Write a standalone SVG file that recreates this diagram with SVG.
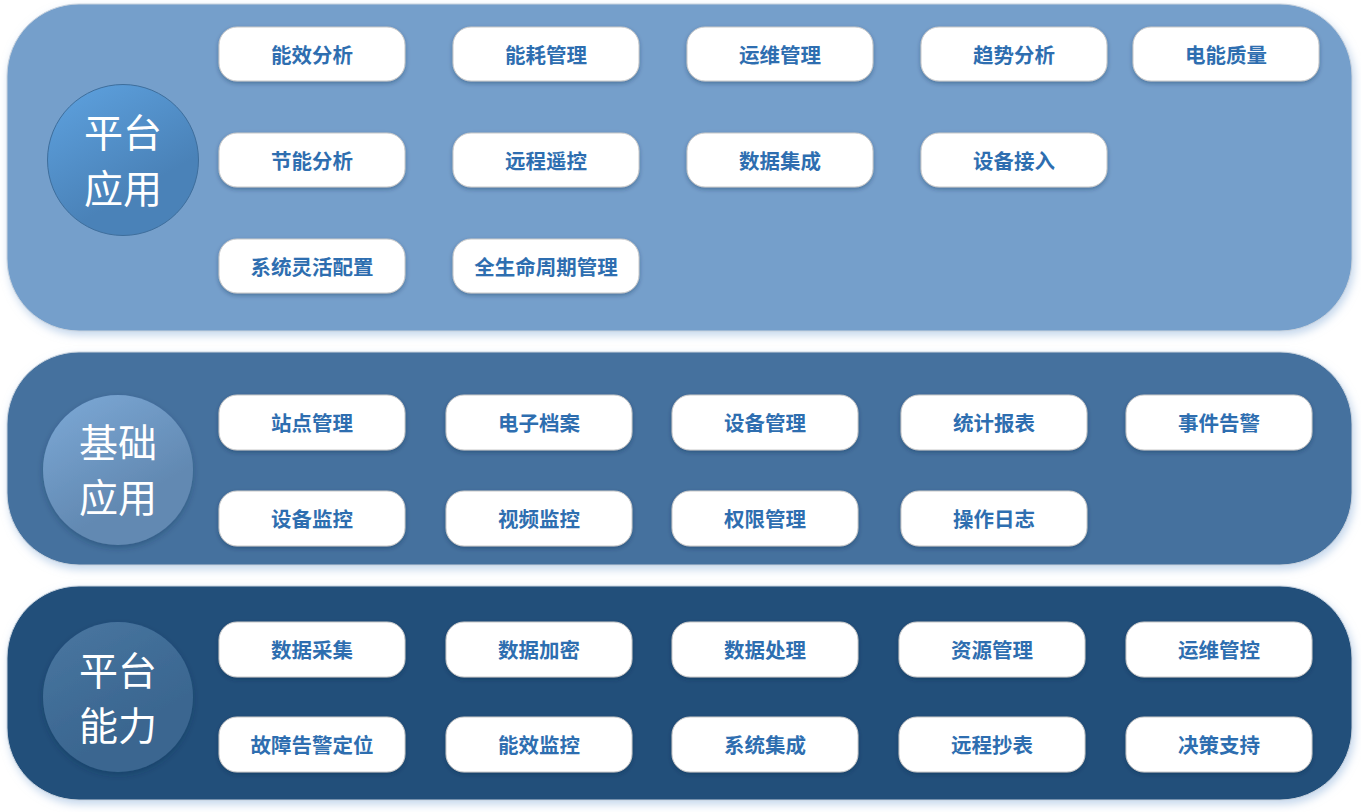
<svg xmlns="http://www.w3.org/2000/svg" width="1361" height="812" viewBox="0 0 1361 812">
<defs>
<filter id="bandShadow" x="-5%" y="-10%" width="110%" height="125%">
<feDropShadow dx="2" dy="4" stdDeviation="4" flood-color="#9fbde0" flood-opacity="0.6"/>
</filter>
<filter id="pillShadow" x="-10%" y="-20%" width="120%" height="150%">
<feDropShadow dx="0" dy="2" stdDeviation="2" flood-color="#0b2a4a" flood-opacity="0.35"/>
</filter>
<filter id="circShadow" x="-20%" y="-20%" width="140%" height="140%">
<feDropShadow dx="0" dy="3" stdDeviation="3" flood-color="#0b2a4a" flood-opacity="0.3"/>
</filter>
<linearGradient id="g1" x1="0.2" y1="0" x2="0.6" y2="0.7">
<stop offset="0" stop-color="#5c9fdc"/>
<stop offset="1" stop-color="#4a82b8"/>
</linearGradient>
<linearGradient id="g2" x1="0.2" y1="0" x2="0.6" y2="0.7">
<stop offset="0" stop-color="#7aa6d3"/>
<stop offset="1" stop-color="#6289b2"/>
</linearGradient>
<linearGradient id="g3" x1="0.2" y1="0" x2="0.6" y2="0.7">
<stop offset="0" stop-color="#48759f"/>
<stop offset="1" stop-color="#3a6690"/>
</linearGradient>
</defs>
<style>
.band{stroke:#c9d3de;stroke-width:1;filter:url(#bandShadow)}
.pill rect{fill:#ffffff;stroke:#c8c8c8;stroke-width:1;filter:url(#pillShadow)}
.pill text{font-family:"Noto Sans CJK SC","Noto Sans",sans-serif;font-weight:bold;font-size:20.5px;fill:#2e6eb0;text-anchor:middle}
.circ text{font-family:"Noto Sans CJK SC","Noto Sans",sans-serif;font-size:39px;fill:#ffffff;text-anchor:middle}
</style>
<rect width="1361" height="812" fill="#ffffff"/>

<g id="band-top"><rect class="band" x="7" y="4" width="1345" height="327" rx="72" fill="#759fcb"/></g>
<g id="band-mid"><rect class="band" x="7" y="352" width="1345" height="213" rx="72" fill="#44719e"/></g>
<g id="band-bot"><rect class="band" x="7" y="586" width="1345" height="214" rx="72" fill="#214f7a"/></g>

<g id="circle-top" class="circ">
<circle cx="123" cy="160" r="75.5" fill="url(#g1)" stroke="#3e6e9c" stroke-width="1"/>
<text x="123" y="147">平台</text>
<text x="123" y="203">应用</text>
</g>
<g id="circle-mid" class="circ">
<circle cx="118" cy="470" r="75" fill="url(#g2)" filter="url(#circShadow)"/>
<text x="118" y="457">基础</text>
<text x="118" y="512">应用</text>
</g>
<g id="circle-bot" class="circ">
<circle cx="118" cy="697" r="75" fill="url(#g3)" filter="url(#circShadow)"/>
<text x="118" y="685">平台</text>
<text x="118" y="740">能力</text>
</g>

<g id="connectors"></g>

<!-- top band pills -->
<g id="n-nxfx" class="pill"><rect x="219" y="27" width="186" height="54" rx="18"/><text x="312" y="62.5">能效分析</text></g>
<g id="n-nhgl" class="pill"><rect x="453" y="27" width="186" height="54" rx="18"/><text x="546" y="62.5">能耗管理</text></g>
<g id="n-ywgl" class="pill"><rect x="687" y="27" width="186" height="54" rx="18"/><text x="780" y="62.5">运维管理</text></g>
<g id="n-qsfx" class="pill"><rect x="921" y="27" width="186" height="54" rx="18"/><text x="1014" y="62.5">趋势分析</text></g>
<g id="n-dnzl" class="pill"><rect x="1133" y="27" width="186" height="54" rx="18"/><text x="1226" y="62.5">电能质量</text></g>
<g id="n-jnfx" class="pill"><rect x="219" y="133" width="186" height="54" rx="18"/><text x="312" y="168.5">节能分析</text></g>
<g id="n-ycyk" class="pill"><rect x="453" y="133" width="186" height="54" rx="18"/><text x="546" y="168.5">远程遥控</text></g>
<g id="n-sjjc" class="pill"><rect x="687" y="133" width="186" height="54" rx="18"/><text x="780" y="168.5">数据集成</text></g>
<g id="n-sbjr" class="pill"><rect x="921" y="133" width="186" height="54" rx="18"/><text x="1014" y="168.5">设备接入</text></g>
<g id="n-xtlhpz" class="pill"><rect x="219" y="239" width="186" height="54" rx="18"/><text x="312" y="274.5">系统灵活配置</text></g>
<g id="n-qsmzqgl" class="pill"><rect x="453" y="239" width="186" height="54" rx="18"/><text x="546" y="274.5">全生命周期管理</text></g>

<!-- middle band pills -->
<g id="n-zdgl" class="pill"><rect x="219" y="395" width="186" height="55" rx="18"/><text x="312" y="430.5">站点管理</text></g>
<g id="n-dzda" class="pill"><rect x="446" y="395" width="186" height="55" rx="18"/><text x="539" y="430.5">电子档案</text></g>
<g id="n-sbgl" class="pill"><rect x="672" y="395" width="186" height="55" rx="18"/><text x="765" y="430.5">设备管理</text></g>
<g id="n-tjbb" class="pill"><rect x="901" y="395" width="186" height="55" rx="18"/><text x="994" y="430.5">统计报表</text></g>
<g id="n-sjgj" class="pill"><rect x="1126" y="395" width="186" height="55" rx="18"/><text x="1219" y="430.5">事件告警</text></g>
<g id="n-sbjk" class="pill"><rect x="219" y="491" width="186" height="55" rx="18"/><text x="312" y="526.5">设备监控</text></g>
<g id="n-spjk" class="pill"><rect x="446" y="491" width="186" height="55" rx="18"/><text x="539" y="526.5">视频监控</text></g>
<g id="n-qxgl" class="pill"><rect x="672" y="491" width="186" height="55" rx="18"/><text x="765" y="526.5">权限管理</text></g>
<g id="n-czrz" class="pill"><rect x="901" y="491" width="186" height="55" rx="18"/><text x="994" y="526.5">操作日志</text></g>

<!-- bottom band pills -->
<g id="n-sjcj" class="pill"><rect x="219" y="622" width="186" height="55" rx="18"/><text x="312" y="657.5">数据采集</text></g>
<g id="n-sjjm" class="pill"><rect x="446" y="622" width="186" height="55" rx="18"/><text x="539" y="657.5">数据加密</text></g>
<g id="n-sjcl" class="pill"><rect x="672" y="622" width="186" height="55" rx="18"/><text x="765" y="657.5">数据处理</text></g>
<g id="n-zygl" class="pill"><rect x="899" y="622" width="186" height="55" rx="18"/><text x="992" y="657.5">资源管理</text></g>
<g id="n-ywgk" class="pill"><rect x="1126" y="622" width="186" height="55" rx="18"/><text x="1219" y="657.5">运维管控</text></g>
<g id="n-gzgjdw" class="pill"><rect x="219" y="717" width="186" height="55" rx="18"/><text x="312" y="752.5">故障告警定位</text></g>
<g id="n-nxjk" class="pill"><rect x="446" y="717" width="186" height="55" rx="18"/><text x="539" y="752.5">能效监控</text></g>
<g id="n-xtjc" class="pill"><rect x="672" y="717" width="186" height="55" rx="18"/><text x="765" y="752.5">系统集成</text></g>
<g id="n-yccb" class="pill"><rect x="899" y="717" width="186" height="55" rx="18"/><text x="992" y="752.5">远程抄表</text></g>
<g id="n-jczc" class="pill"><rect x="1126" y="717" width="186" height="55" rx="18"/><text x="1219" y="752.5">决策支持</text></g>
</svg>
